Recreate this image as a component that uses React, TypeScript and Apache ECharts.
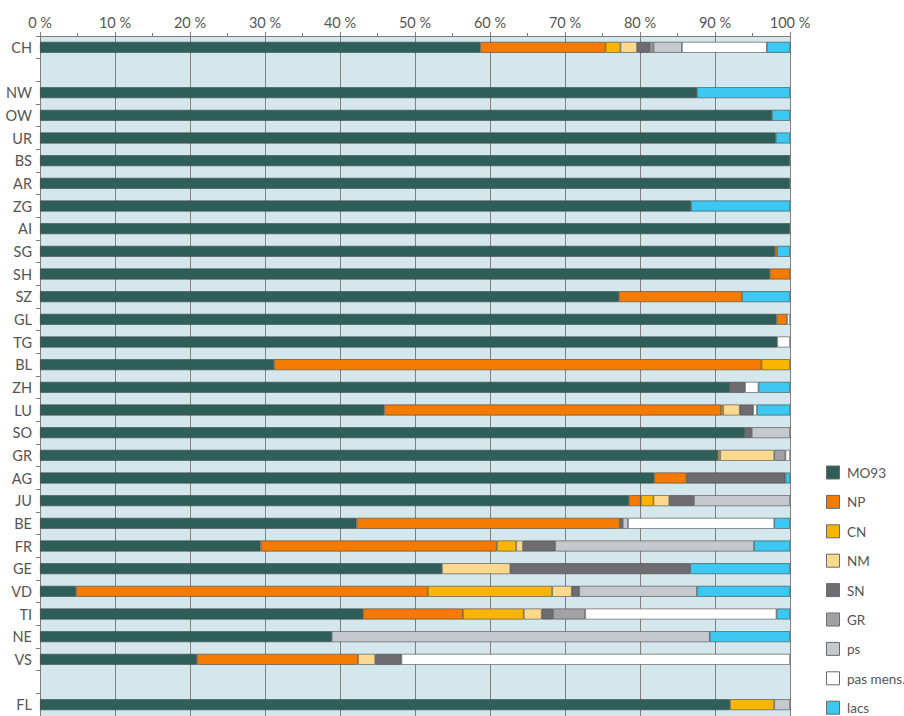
import React, { useEffect, useRef } from "react";
import * as echarts from "echarts";

const categories = ["CH", " ", "NW", "OW", "UR", "BS", "AR", "ZG", "AI", "SG", "SH", "SZ", "GL", "TG", "BL", "ZH", "LU", "SO", "GR", "AG", "JU", "BE", "FR", "GE", "VD", "TI", "NE", "VS", "  ", "FL"];

const seriesNames = ["MO93", "NP", "CN", "NM", "SN", "GR", "ps", "pas mens.", "lacs"];
const seriesColors = ["#2d5f58", "#f47b00", "#f9b500", "#fdd98f", "#6e6c70", "#a2a2a5", "#c5c9cd", "#ffffff", "#3cc8f0"];

const MO93 = [58.7, 0, 87.6, 97.6, 98.1, 100, 100, 86.8, 100, 98.0, 97.3, 77.2, 98.2, 98.3, 31.2, 92.0, 45.9, 94.0, 90.4, 81.9, 78.5, 42.2, 29.4, 53.6, 4.8, 43.1, 38.9, 20.9, 0, 92.0];
const NP = [16.7, 0, 0, 0, 0, 0, 0, 0, 0, 0.3, 2.7, 16.4, 1.4, 0, 65.0, 0, 44.9, 0, 0, 4.3, 1.6, 35.1, 31.5, 0, 46.9, 13.3, 0, 21.5, 0, 0];
const CN = [2.0, 0, 0, 0, 0, 0, 0, 0, 0, 0, 0, 0, 0, 0, 3.8, 0, 0.3, 0, 0.3, 0, 1.7, 0, 2.6, 0, 16.6, 8.1, 0, 0, 0, 5.9];
const NM = [2.2, 0, 0, 0, 0, 0, 0, 0, 0, 0, 0, 0, 0, 0, 0, 0, 2.2, 0, 7.2, 0, 2.1, 0, 0.9, 9.1, 2.6, 2.4, 0, 2.3, 0, 0];
const SN = [1.7, 0, 0, 0, 0, 0, 0, 0, 0, 0, 0, 0, 0, 0, 0, 2.0, 1.8, 0.9, 0, 13.2, 3.3, 0.4, 4.3, 24.0, 1.0, 1.5, 0, 3.5, 0, 0];
const GRs = [0.5, 0, 0, 0, 0, 0, 0, 0, 0, 0, 0, 0, 0, 0, 0, 0, 0, 0, 1.5, 0, 0, 0, 0, 0, 0, 4.3, 0, 0, 0, 0];
const PS = [3.8, 0, 0, 0, 0, 0, 0, 0, 0, 0, 0, 0, 0, 0, 0, 0, 0, 5.1, 0, 0, 12.8, 0.7, 26.5, 0, 15.7, 0, 50.4, 0, 0, 2.1];
const PAS = [11.3, 0, 0, 0, 0, 0, 0, 0, 0, 0, 0, 0, 0.4, 1.7, 0, 1.8, 0.5, 0, 0.6, 0, 0, 19.5, 0, 0, 0, 25.5, 0, 51.8, 0, 0];
const LACS = [3.1, 0, 12.4, 2.4, 1.9, 0, 0, 13.2, 0, 1.7, 0, 6.4, 0, 0, 0, 4.2, 4.4, 0, 0, 0.6, 0, 2.1, 4.8, 13.3, 12.4, 1.8, 10.7, 0, 0, 0];

const seriesValues = [MO93, NP, CN, NM, SN, GRs, PS, PAS, LACS];

const FONT = "Lato, 'Open Sans', sans-serif";

export default function App() {
  const ref = useRef<HTMLDivElement>(null);
  useEffect(() => {
    if (!ref.current) return;
    const chart = echarts.init(ref.current, undefined, { renderer: "svg" });
    const series = seriesNames.map((name, i) => ({
      name,
      type: "bar",
      stack: "all",
      barWidth: 11,
      itemStyle: {
        color: seriesColors[i],
        borderColor: "rgba(70,70,70,0.85)",
        borderWidth: 0.7,
      },
      emphasis: { disabled: true },
      data: seriesValues[i].map((v) => (v > 0 ? v : "-")),
    }));
    const legendTop = 473;
    const legendStep = 29.4;
    const legendGraphics: any[] = [];
    seriesNames.forEach((name, i) => {
      const cy = legendTop + i * legendStep;
      legendGraphics.push({
        type: "rect",
        x: 826.5,
        y: cy - 7,
        shape: { width: 13, height: 13 },
        style: { fill: seriesColors[i], stroke: "#6a6a6a", lineWidth: 1 },
        silent: true,
      });
      legendGraphics.push({
        type: "text",
        x: 847,
        y: cy,
        style: {
          text: name,
          fill: "#555",
          fontSize: 13.5,
          fontFamily: FONT,
          verticalAlign: "middle",
          align: "left",
        },
        silent: true,
      });
    });
    chart.setOption({
      animation: false,
      textStyle: { fontFamily: FONT },
      grid: {
        left: 40,
        top: 36,
        width: 750,
        height: 682,
        show: true,
        backgroundColor: "#d4e7ed",
        borderWidth: 0,
      },
      graphic: legendGraphics,
      xAxis: {
        type: "value",
        position: "top",
        min: 0,
        max: 100,
        interval: 10,
        axisLine: { show: true, lineStyle: { color: "#7d7d7d", width: 1 } },
        axisTick: { show: true, length: 4, lineStyle: { color: "#7d7d7d" } },
        minorTick: { show: true, splitNumber: 2, length: 3, lineStyle: { color: "#7d7d7d" } },
        axisLabel: {
          formatter: "{value} %",
          fontSize: 14.5,
          color: "#555",
          margin: 6,
          fontFamily: FONT,
        },
        splitLine: { show: true, lineStyle: { color: "#808080", width: 1 } },
      },
      yAxis: {
        type: "category",
        inverse: true,
        data: categories,
        axisLine: { show: true, lineStyle: { color: "#7d7d7d", width: 1 } },
        axisTick: { show: true, length: 4, lineStyle: { color: "#7d7d7d" } },
        axisLabel: { fontSize: 14.5, color: "#555", margin: 8, fontFamily: FONT, interval: 0 },
        splitLine: { show: false },
      },
      series,
    });
    return () => chart.dispose();
  }, []);
  return <div ref={ref} style={{ width: 904, height: 716, position: "absolute", left: 0, top: 0 }} />;
}
